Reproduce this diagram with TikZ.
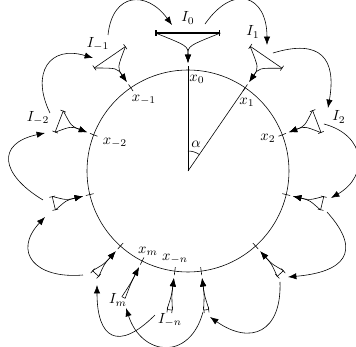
\documentclass[tikz,border=0pt]{standalone}
\usepackage{amsmath,amssymb}
\usetikzlibrary{arrows.meta,calc}

\begin{document}
\begin{tikzpicture}[
    x=0.0239cm,
    y=0.0239cm,
    interval/.style={{Bar[width=4pt]}-{Bar[width=4pt]}},
    fold/.style={-{Latex[length=2mm,width=1.5mm]}},
    flow/.style={-{Latex[length=2mm,width=1.5mm]}},
    lab/.style={inner sep=1pt}
]
\useasboundingbox (-188,-176) rectangle (168,171);

% circle and angle
\coordinate (O) at (0,0);
\draw (O) circle[radius=101];
\coordinate (x0) at (90:101);
\coordinate (x1) at (55.5:101);
\draw (O) -- (x0);
\draw (O) -- (x1);
\draw (90:20) arc[start angle=90, end angle=55.5, radius=20];
\node[lab] (alpha) at (73:28) {$\alpha$};

% ticks on the circle
\draw (90:97) -- (90:105);
\draw (55.5:97) -- (55.5:105);
\draw (21:97) -- (21:105);
\draw (-13.5:97) -- (-13.5:105);
\draw (-48:97) -- (-48:105);
\draw (-82.5:97) -- (-82.5:105);
\draw (-117:97) -- (-117:105);
\draw (124.5:97) -- (124.5:105);
\draw (159:97) -- (159:105);
\draw (193.5:97) -- (193.5:105);
\draw (228:97) -- (228:105);
\draw (262.5:97) -- (262.5:105);

% intervals I_k
\coordinate (I0s) at ($(90:138)+(180:32.5)$);
\coordinate (I0e) at ($(90:138)+(0:32.5)$);
\coordinate (I0c) at (90:125);
\coordinate (t0) at (90:108);
\coordinate (I1s) at ($(55.5:138)+(145.5:19.5)$);
\coordinate (I1e) at ($(55.5:138)+(-34.5:19.5)$);
\coordinate (I1c) at (55.5:125);
\coordinate (t1) at (55.5:108);
\coordinate (I2s) at ($(21:138)+(111:12)$);
\coordinate (I2e) at ($(21:138)+(-69:12)$);
\coordinate (I2c) at (21:125);
\coordinate (t2) at (21:108);
\coordinate (I3s) at ($(-13.5:138)+(76.5:7)$);
\coordinate (I3e) at ($(-13.5:138)+(-103.5:7)$);
\coordinate (I3c) at (-13.5:125);
\coordinate (t3) at (-13.5:108);
\coordinate (I4s) at ($(-48:138)+(42:4.3)$);
\coordinate (I4e) at ($(-48:138)+(-138:4.3)$);
\coordinate (I4c) at (-48:125);
\coordinate (t4) at (-48:108);
\coordinate (I5s) at ($(-82.5:140)+(7.5:2.7)$);
\coordinate (I5e) at ($(-82.5:140)+(-172.5:2.7)$);
\coordinate (I5c) at (-82.5:125);
\coordinate (t5) at (-82.5:108);
\coordinate (I6s) at ($(-117:142)+(-27:1.8)$);
\coordinate (I6e) at ($(-117:142)+(153:1.8)$);
\coordinate (I6c) at (-117:125);
\coordinate (t6) at (-117:108);

\coordinate (In1s) at ($(124.5:138)+(214.5:19)$);
\coordinate (In1e) at ($(124.5:138)+(34.5:19)$);
\coordinate (In1c) at (124.5:125);
\coordinate (tn1) at (124.5:108);
\coordinate (In2s) at ($(159:138)+(249:11.5)$);
\coordinate (In2e) at ($(159:138)+(69:11.5)$);
\coordinate (In2c) at (159:125);
\coordinate (tn2) at (159:108);
\coordinate (In3s) at ($(193.5:138)+(283.5:7)$);
\coordinate (In3e) at ($(193.5:138)+(103.5:7)$);
\coordinate (In3c) at (193.5:125);
\coordinate (tn3) at (193.5:108);
\coordinate (In4s) at ($(228:138)+(318:4.3)$);
\coordinate (In4e) at ($(228:138)+(138:4.3)$);
\coordinate (In4c) at (228:125);
\coordinate (tn4) at (228:108);
\coordinate (In5s) at ($(262.5:140)+(352.5:2.7)$);
\coordinate (In5e) at ($(262.5:140)+(172.5:2.7)$);
\coordinate (In5c) at (262.5:125);
\coordinate (tn5) at (262.5:108);

\draw[interval, thick] (I0s) -- (I0e);
\draw[fold] (I0s) .. controls (I0c) .. (t0);
\draw[fold] (I0e) .. controls (I0c) .. (t0);
\draw[interval] (I1s) -- (I1e);
\draw[fold] (I1s) .. controls (I1c) .. (t1);
\draw[fold] (I1e) .. controls (I1c) .. (t1);
\draw[interval] (I2s) -- (I2e);
\draw[fold] (I2s) .. controls (I2c) .. (t2);
\draw[fold] (I2e) .. controls (I2c) .. (t2);
\draw[interval] (I3s) -- (I3e);
\draw[fold] (I3s) .. controls (I3c) .. (t3);
\draw[fold] (I3e) .. controls (I3c) .. (t3);
\draw[interval] (I4s) -- (I4e);
\draw[fold] (I4s) .. controls (I4c) .. (t4);
\draw[fold] (I4e) .. controls (I4c) .. (t4);
\draw[interval] (I5s) -- (I5e);
\draw[fold] (I5s) .. controls (I5c) .. (t5);
\draw[fold] (I5e) .. controls (I5c) .. (t5);
\draw (I6s) -- (I6e);
\draw[fold] (I6s) .. controls (I6c) .. (t6);
\draw[fold] (I6e) .. controls (I6c) .. (t6);

\draw[interval] (In1s) -- (In1e);
\draw[fold] (In1s) .. controls (In1c) .. (tn1);
\draw[fold] (In1e) .. controls (In1c) .. (tn1);
\draw[interval] (In2s) -- (In2e);
\draw[fold] (In2s) .. controls (In2c) .. (tn2);
\draw[fold] (In2e) .. controls (In2c) .. (tn2);
\draw[interval] (In3s) -- (In3e);
\draw[fold] (In3s) .. controls (In3c) .. (tn3);
\draw[fold] (In3e) .. controls (In3c) .. (tn3);
\draw[interval] (In4s) -- (In4e);
\draw[fold] (In4s) .. controls (In4c) .. (tn4);
\draw[fold] (In4e) .. controls (In4c) .. (tn4);
\draw[interval] (In5s) -- (In5e);
\draw[fold] (In5s) .. controls (In5c) .. (tn5);
\draw[fold] (In5e) .. controls (In5c) .. (tn5);

% labels
\node[lab] (lx0) at (9,92) {$x_0$};
\node[lab] (lx1) at (59,69) {$x_1$};
\node[lab] (lx2) at (80,33) {$x_2$};
\node[lab] (lxn1) at (-44,71) {$x_{-1}$};
\node[lab] (lxn2) at (-73,28) {$x_{-2}$};
\node[lab] (lxm) at (-40,-80) {$x_m$};
\node[lab] (lxnn) at (-13,-88) {$x_{-n}$};
\node[lab] (lI0) at (0,153) {$I_0$};
\node[lab] (lI1) at (65,139) {$I_1$};
\node[lab] (lI2) at (151,54) {$I_2$};
\node[lab] (lIn1) at (-90,127) {$I_{-1}$};
\node[lab] (lIn2) at (-150,53) {$I_{-2}$};
\node[lab] (lIm) at (-70,-129) {$I_m$};
\node[lab] (lInn) at (-18,-149) {$I_{-n}$};

% the map sends I_k to I_{k+1}
\coordinate (f0s) at (17,147);   \coordinate (f0e) at (79,126);
\coordinate (f1s) at (85,118);   \coordinate (f1e) at (140,63);
\coordinate (f2s) at (136,47);   \coordinate (f2e) at (143,-27);
\coordinate (f3s) at (139,-41);  \coordinate (f3e) at (100,-106);
\coordinate (f4s) at (92,-111);  \coordinate (f4e) at (22,-146);
\coordinate (f5s) at (15,-141);  \coordinate (f5e) at (-62,-137);
\coordinate (g1s) at (-80,136);  \coordinate (g1e) at (-16,146);
\coordinate (g2s) at (-138,58);  \coordinate (g2e) at (-95,113);
\coordinate (g3s) at (-145,-29); \coordinate (g3e) at (-143,38);
\coordinate (g4s) at (-105,-104); \coordinate (g4e) at (-143,-46);
\coordinate (g5s) at (-33,-144); \coordinate (g5e) at (-91,-114);

\draw[flow] (f0s) .. controls +(55:50) and +(90:50) .. (f0e);
\draw[flow] (f1s) .. controls +(17:50) and +(80:50) .. (f1e);
\draw[flow] (f2s) .. controls +(-15:44) and +(30:44) .. (f2e);
\draw[flow] (f3s) .. controls +(-48:55) and +(5:55) .. (f3e);
\draw[flow] (f4s) .. controls +(-88:50) and +(-35:50) .. (f4e);
\draw[flow] (f5s) .. controls +(-105:51) and +(-72:51) .. (f5e);
\draw[flow] (g1s) .. controls +(84:43) and +(126:43) .. (g1e);
\draw[flow] (g2s) .. controls +(116:45) and +(163:45) .. (g2e);
\draw[flow] (g3s) .. controls +(149:50) and +(192:50) .. (g3e);
\draw[flow] (g4s) .. controls +(185:48) and +(227:48) .. (g4e);
\draw[flow] (g5s) .. controls +(225:53) and +(-90:53) .. (g5e);

\end{tikzpicture}
\end{document}
